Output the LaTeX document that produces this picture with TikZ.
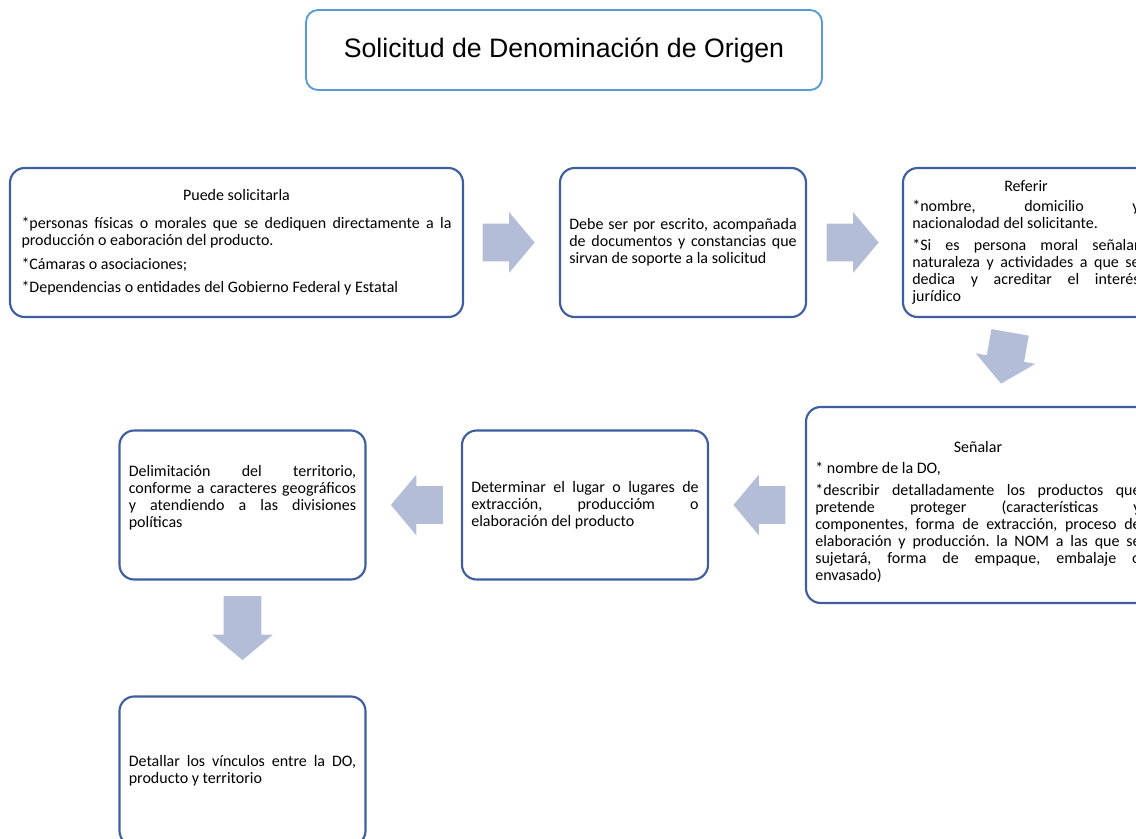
\documentclass[tikz,border=0pt]{standalone}
\usepackage{xcolor}
\usepackage{fontspec}
\setmainfont{Carlito}
\newfontfamily\titlefont{Liberation Sans}
\usepackage{tikz}
\usetikzlibrary{shapes, arrows.meta, positioning}
\usetikzlibrary{calc}
\definecolor{boxblue}{RGB}{62,94,160}
\definecolor{titleblue}{RGB}{91,155,213}
\definecolor{arrowblue}{RGB}{180,189,215}
\frenchspacing
\hyphenpenalty=10000
\exhyphenpenalty=10000

\begin{document}
\begin{tikzpicture}
  [
    x=0.75pt, y=-0.75pt,
    Title/.style={draw=titleblue, line width=1.4pt, rounded corners=9pt, minimum width=387pt, minimum height=60pt, font=\titlefont\fontsize{20}{24}\selectfont},
    Box/.style={draw=boxblue, line width=1.6pt, rounded corners=11pt, fill=white, align=justify, inner xsep=7pt, minimum height=111.75pt, font=\fontsize{12}{12.75}\selectfont},
    Arrow/.style={single arrow, fill=arrowblue, inner xsep=0pt, inner ysep=14pt, minimum height=39pt, single arrow head extend=8.5pt, single arrow tip angle=100, anchor=tip}
  ]
  \useasboundingbox (0,0) rectangle (1136,839);
  \clip (0,0) rectangle (1136,839);
  % Nodes
  \node[Title] (t) at (564,50) {Solicitud de Denominación de Origen};
  \node[Box, text width=322.5pt, inner xsep=8.6pt] (b1) at (236.5,242.5) {\centerline{Puede solicitarla}\par\vspace{8pt}
    *personas físicas o morales que se dediquen directamente a la producción o eaboración del producto.\par\vspace{5pt}
    *Cámaras o asociaciones;\par\vspace{5pt}
    *Dependencias o entidades del Gobierno Federal y Estatal};
  \node[Box, text width=170.5pt] (b2) at (683,242.5) {Debe ser por escrito, acompañada de documentos y constancias que sirvan de soporte a la solicitud};
  \node[Box, text width=170.5pt] (b3) at (1026,242.5) {\centerline{Referir}\par\vspace{2pt}
    *nombre, domicilio y\linebreak nacionalodad del solicitante.\par\vspace{4pt}
    *Si es persona moral señalar\linebreak naturaleza y actividades a que se\linebreak dedica y acreditar el interés\linebreak jurídico};
  \node[Box, text width=244pt, minimum height=147pt] (b4) at (978,505) {\mbox{}\par\vspace{6pt}\centerline{Señalar}\par\vspace{3pt}
    * nombre de la DO,\par\vspace{4pt}
    *describir detalladamente los productos que\linebreak pretende proteger (características y\linebreak componentes, forma de extracción, proceso de\linebreak elaboración y producción. la NOM a las que se\linebreak sujetará, forma de empaque, embalaje o\linebreak envasado)};
  \node[Box, text width=170.5pt] (b5) at (585,505) {Determinar el lugar o lugares de\linebreak extracción, produccióm o\linebreak elaboración del producto};
  \node[Box, text width=170.5pt] (b6) at (242.5,505) {Delimitación del territorio, conforme a caracteres geográficos y atendiendo a las divisiones políticas\par\mbox{}};
  \node[Box, text width=170.5pt] (b7) at (242.5,771) {Detallar los vínculos entre la DO, producto y territorio};
  % Arrows
  \node[Arrow] (a1) at ($(b2.west)+(-24,0)$) {};
  \node[Arrow] (a2) at ($(b3.west)+(-23,0)$) {};
  \node[Arrow, rotate=-100] (a3) at ($(b4.north)+(23,-22)$) {};
  \node[Arrow, rotate=180] (a4) at ($(b5.east)+(24,0)$) {};
  \node[Arrow, rotate=180] (a5) at ($(b6.east)+(24,0)$) {};
  \node[Arrow, rotate=-90, minimum height=48pt] (a6) at ($(b7.north)+(0,-35)$) {};
\end{tikzpicture}
\end{document}
